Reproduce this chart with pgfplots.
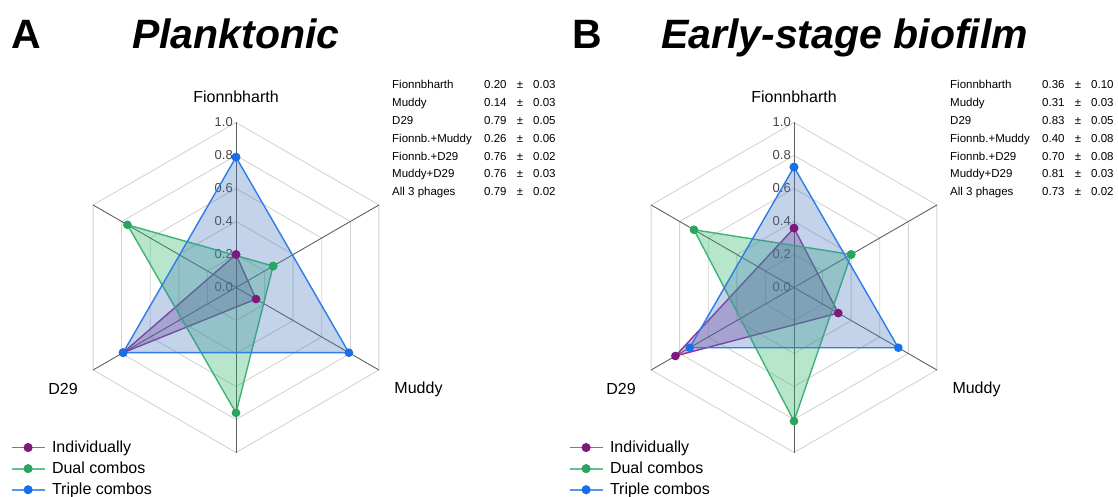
\documentclass[border=0pt]{standalone}
\usepackage{fontspec}
\setmainfont{Liberation Sans}
\usepackage{pgfplots}
\pgfplotsset{compat=1.18}
\definecolor{pline}{RGB}{145,50,150}
\definecolor{pmark}{RGB}{125,25,125}
\definecolor{pfill}{RGB}{130,40,140}
\definecolor{gline}{RGB}{60,180,115}
\definecolor{gmark}{RGB}{40,165,95}
\definecolor{gfill}{RGB}{40,180,100}
\definecolor{bline}{RGB}{45,125,230}
\definecolor{bmark}{RGB}{25,110,235}
\definecolor{bfill}{RGB}{70,120,190}
\definecolor{gridc}{RGB}{212,212,212}
\definecolor{spokec}{RGB}{95,95,95}
\definecolor{tickc}{RGB}{70,70,70}
\newcommand{\tfont}{\fontsize{11.5}{13}\selectfont}
\newcommand{\tabrow}[5]{%
  \path (#1pt,#2pt) node[anchor=base west,inner sep=0pt,font=\tfont]{#3}
    ++(92pt,0) node[anchor=base west,inner sep=0pt,font=\tfont]{#4}
    ++(36pt,0) node[anchor=base,inner sep=0pt,font=\tfont]{±}
    ++(13pt,0) node[anchor=base west,inner sep=0pt,font=\tfont]{#5};}
\pgfplotsset{
  radar/.style={x=165pt,y=165pt,xmin=-1,xmax=1,ymin=-1,ymax=1,
    hide axis,clip=false,anchor=center,
    legend style={at={(axis description cs:-0.1833,0.04)},anchor=north west,
      draw=none,fill=none,inner sep=0pt,font=\fontsize{16}{18}\selectfont,
      row sep=5pt,nodes={inner sep=1.5pt},
      /tikz/every odd column/.append style={column sep=5pt}},
    legend cell align=left,
    legend image code/.code={\draw[mark repeat=2,mark phase=2,##1,line width=1.8pt,draw opacity=0.8]
      plot coordinates {(0pt,0pt)(16.5pt,0pt)(33pt,0pt)};}},
  gridhex/.style={gridc,line width=0.9pt,forget plot,data cs=polar},
  spoke/.style={spokec,line width=0.9pt,forget plot,data cs=polar},
  ser/.style={#1line,line width=1.4pt,mark=*,mark size=3.6pt,
    mark options={fill=#1mark,draw=#1mark,draw opacity=1},data cs=polar},
  area/.style={fill=#1fill,fill opacity=0.33,draw=none,forget plot,data cs=polar},
}
\newcommand{\radargrid}{%
  \pgfplotsinvokeforeach{0.2,0.4,0.6,0.8,1.0}{%
    \addplot[gridhex] coordinates {(90,##1)(150,##1)(210,##1)(270,##1)(330,##1)(30,##1)(90,##1)};}
  \addplot[spoke] coordinates {(90,1)(270,1)};
  \addplot[spoke] coordinates {(150,1)(330,1)};
  \addplot[spoke] coordinates {(30,1)(210,1)};
  \pgfplotsinvokeforeach{0.0,0.2,0.4,0.6,0.8,1.0}{%
    \node[anchor=east,inner sep=0pt,xshift=-3pt,text=tickc,font=\fontsize{13}{13}\selectfont] at (axis cs:0,##1) {##1};}
}
\begin{document}
\begin{tikzpicture}
\path[use as bounding box] (0,0) rectangle (1118pt,496pt);
% ---------- Panel A ----------
\begin{axis}[radar,at={(236pt,208.5pt)}]
\radargrid
\addplot[area=p] coordinates {(90,0.20)(330,0.14)(210,0.79)(90,0.20)};
\addplot[ser=p] coordinates {(90,0.20)(330,0.14)(210,0.79)(90,0.20)};
\addplot[area=g] coordinates {(30,0.26)(270,0.76)(150,0.76)(30,0.26)};
\addplot[ser=g] coordinates {(30,0.26)(270,0.76)(150,0.76)(30,0.26)};
\addplot[area=b] coordinates {(90,0.79)(330,0.79)(210,0.79)(90,0.79)};
\addplot[ser=b] coordinates {(90,0.79)(330,0.79)(210,0.79)(90,0.79)};
\legend{Individually,Dual combos,Triple combos}
\end{axis}
% ---------- Panel B ----------
\begin{axis}[radar,at={(794pt,208.5pt)}]
\radargrid
\addplot[area=p] coordinates {(90,0.36)(330,0.31)(210,0.83)(90,0.36)};
\addplot[ser=p] coordinates {(90,0.36)(330,0.31)(210,0.83)(90,0.36)};
\addplot[area=g] coordinates {(30,0.40)(270,0.81)(150,0.70)(30,0.40)};
\addplot[ser=g] coordinates {(30,0.40)(270,0.81)(150,0.70)(30,0.40)};
\addplot[area=b] coordinates {(90,0.73)(330,0.73)(210,0.73)(90,0.73)};
\addplot[ser=b] coordinates {(90,0.73)(330,0.73)(210,0.73)(90,0.73)};
\legend{Individually,Dual combos,Triple combos}
\end{axis}
% ---------- Titles ----------
\node[anchor=base west,inner sep=0pt,font=\fontsize{41}{41}\selectfont\bfseries] at (11pt,447pt) {A};
\node[anchor=base west,inner sep=0pt,font=\fontsize{41}{41}\selectfont\bfseries\itshape] at (132pt,447pt) {Planktonic};
\node[anchor=base west,inner sep=0pt,font=\fontsize{41}{41}\selectfont\bfseries] at (572pt,447pt) {B};
\node[anchor=base west,inner sep=0pt,font=\fontsize{41}{41}\selectfont\bfseries\itshape] at (661pt,447pt) {Early-stage biofilm};
% ---------- Category labels ----------
\foreach \cx in {0,558}{%
  \node[anchor=base,inner sep=0pt,font=\fontsize{16}{16}\selectfont] at (236pt+\cx pt,393pt) {Fionnbharth};
  \node[anchor=base,inner sep=0pt,font=\fontsize{16}{16}\selectfont] at (63pt+\cx pt,102pt) {D29};
  \node[anchor=base,inner sep=0pt,font=\fontsize{16}{16}\selectfont] at (418.5pt+\cx pt,103pt) {Muddy};
}
% ---------- Tables ----------
\tabrow{392}{407}{Fionnbharth}{0.20}{0.03}
\tabrow{392}{389.2}{Muddy}{0.14}{0.03}
\tabrow{392}{371.4}{D29}{0.79}{0.05}
\tabrow{392}{353.6}{Fionnb.+Muddy}{0.26}{0.06}
\tabrow{392}{335.8}{Fionnb.+D29}{0.76}{0.02}
\tabrow{392}{318}{Muddy+D29}{0.76}{0.03}
\tabrow{392}{300.2}{All 3 phages}{0.79}{0.02}
\tabrow{950}{407}{Fionnbharth}{0.36}{0.10}
\tabrow{950}{389.2}{Muddy}{0.31}{0.03}
\tabrow{950}{371.4}{D29}{0.83}{0.05}
\tabrow{950}{353.6}{Fionnb.+Muddy}{0.40}{0.08}
\tabrow{950}{335.8}{Fionnb.+D29}{0.70}{0.08}
\tabrow{950}{318}{Muddy+D29}{0.81}{0.03}
\tabrow{950}{300.2}{All 3 phages}{0.73}{0.02}
\end{tikzpicture}
\end{document}
